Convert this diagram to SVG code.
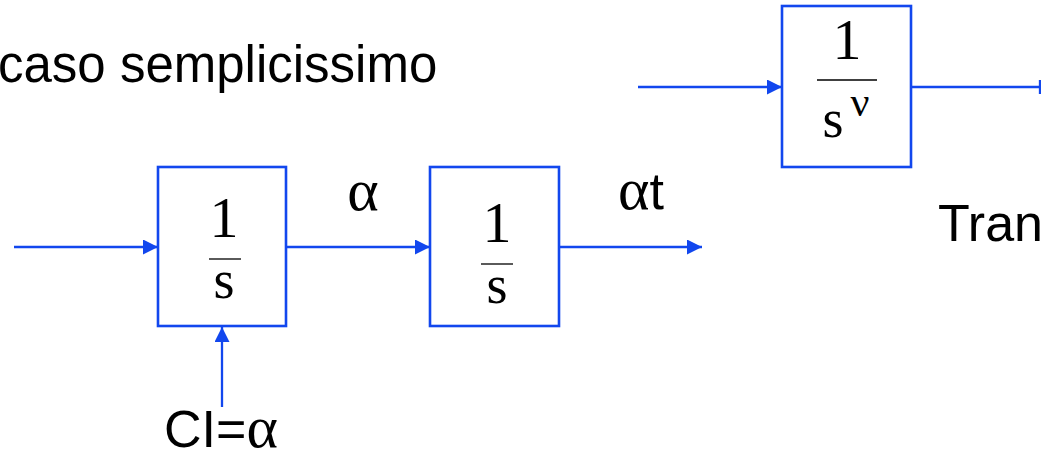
<svg xmlns="http://www.w3.org/2000/svg" width="1041" height="453" viewBox="0 0 1041 453">
  <style>
    .box { fill: #ffffff; stroke: #1247ee; stroke-width: 2.6; }
    .wire { stroke: #1247ee; stroke-width: 2.3; fill: none; }
    .bar { stroke: #000000; stroke-width: 1.3; }
    .num { font-family: "Liberation Serif", serif; font-size: 58px; fill: #000; text-anchor: middle; }
    .den { font-family: "Liberation Serif", serif; font-size: 54px; fill: #000; text-anchor: middle; }
    .lbl { font-family: "Liberation Sans", Arial, sans-serif; font-size: 52px; fill: #000; }
    .gr { font-family: "Liberation Serif", serif; font-size: 60px; }
  </style>
  <defs>
    <marker id="arr" viewBox="0 0 15 15" refX="15" refY="7.5" markerWidth="15" markerHeight="15" markerUnits="userSpaceOnUse" orient="auto">
      <path d="M0,0 L15,7.5 L0,15 Z" fill="#1247ee"/>
    </marker>
  </defs>

  <rect width="1041" height="453" fill="#ffffff"/>

  <!-- headings -->
  <text class="lbl" x="-2" y="82" style="font-size:51px">caso semplicissimo</text>
  <text class="lbl" x="938" y="241">Tran</text>

  <!-- connectors -->
  <g id="connectors">
    <line class="wire" x1="14" y1="247" x2="158" y2="247" marker-end="url(#arr)"/>
    <line class="wire" x1="286" y1="247" x2="430" y2="247" marker-end="url(#arr)"/>
    <line class="wire" x1="559" y1="247" x2="702" y2="247" marker-end="url(#arr)"/>
    <line class="wire" x1="222" y1="407" x2="222" y2="327" marker-end="url(#arr)"/>
    <line class="wire" x1="638" y1="87" x2="782" y2="87" marker-end="url(#arr)"/>
    <line class="wire" x1="911" y1="87" x2="1041" y2="87"/>
    <line class="wire" x1="1040" y1="80" x2="1040" y2="94"/>
  </g>

  <!-- first integrator -->
  <g id="int1">
    <rect class="box" x="158" y="167" width="128" height="159"/>
    <text class="num" x="224" y="237">1</text>
    <line class="bar" x1="209" y1="259" x2="241" y2="259"/>
    <text class="den" x="224" y="298">s</text>
  </g>

  <!-- second integrator -->
  <g id="int2">
    <rect class="box" x="430" y="167" width="129" height="159"/>
    <text class="num" x="497" y="242">1</text>
    <line class="bar" x1="481" y1="264" x2="513" y2="264"/>
    <text class="den" x="497" y="303">s</text>
  </g>

  <!-- generic 1/s^nu block -->
  <g id="intnu">
    <rect class="box" x="782" y="6" width="129" height="161"/>
    <text class="num" x="847" y="59">1</text>
    <line class="bar" x1="817" y1="80" x2="877" y2="80"/>
    <text class="den" x="833" y="137">s</text>
    <text class="den" x="860" y="116" style="font-size:42px">ν</text>
  </g>

  <!-- signal labels -->
  <g id="labels">
    <text class="lbl gr" x="363" y="210" text-anchor="middle">α</text>
    <text class="lbl" x="618" y="209"><tspan class="gr">α</tspan>t</text>
    <text class="lbl" x="164" y="447">CI=<tspan class="gr">α</tspan></text>
  </g>
</svg>
